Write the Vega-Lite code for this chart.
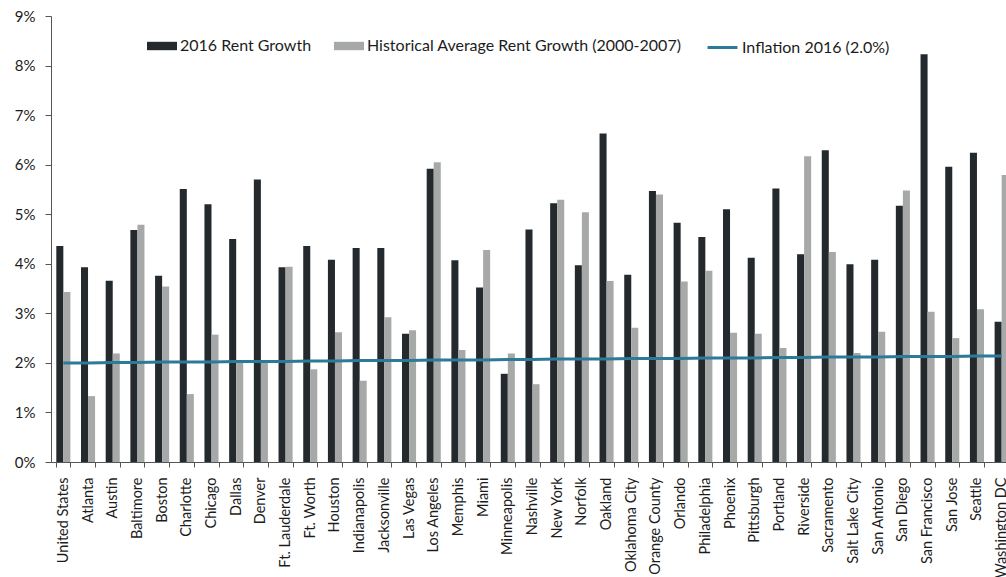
{
  "$schema": "https://vega.github.io/schema/vega-lite/v6.json",
  "autosize": {"type": "none"},
  "width": 955,
  "height": 446,
  "padding": {"left": 51, "top": 16, "right": 0, "bottom": 115},
  "background": "#ffffff",
  "config": {
    "view": {"stroke": null},
    "font": "Lato",
    "axis": {"labelFont": "Lato", "labelColor": "#1c1c1c", "domainColor": "#555555", "tickColor": "#555555", "grid": false}
  },
  "datasets": {
    "bars": [
      {"city": "United States", "series": "2016 Rent Growth", "value": 4.36},
      {"city": "United States", "series": "Historical Average Rent Growth (2000-2007)", "value": 3.43},
      {"city": "Atlanta", "series": "2016 Rent Growth", "value": 3.93},
      {"city": "Atlanta", "series": "Historical Average Rent Growth (2000-2007)", "value": 1.33},
      {"city": "Austin", "series": "2016 Rent Growth", "value": 3.66},
      {"city": "Austin", "series": "Historical Average Rent Growth (2000-2007)", "value": 2.19},
      {"city": "Baltimore", "series": "2016 Rent Growth", "value": 4.68},
      {"city": "Baltimore", "series": "Historical Average Rent Growth (2000-2007)", "value": 4.79},
      {"city": "Boston", "series": "2016 Rent Growth", "value": 3.76},
      {"city": "Boston", "series": "Historical Average Rent Growth (2000-2007)", "value": 3.54},
      {"city": "Charlotte", "series": "2016 Rent Growth", "value": 5.51},
      {"city": "Charlotte", "series": "Historical Average Rent Growth (2000-2007)", "value": 1.37},
      {"city": "Chicago", "series": "2016 Rent Growth", "value": 5.2},
      {"city": "Chicago", "series": "Historical Average Rent Growth (2000-2007)", "value": 2.57},
      {"city": "Dallas", "series": "2016 Rent Growth", "value": 4.5},
      {"city": "Dallas", "series": "Historical Average Rent Growth (2000-2007)", "value": 2.0},
      {"city": "Denver", "series": "2016 Rent Growth", "value": 5.7},
      {"city": "Denver", "series": "Historical Average Rent Growth (2000-2007)", "value": 2.05},
      {"city": "Ft. Lauderdale", "series": "2016 Rent Growth", "value": 3.93},
      {"city": "Ft. Lauderdale", "series": "Historical Average Rent Growth (2000-2007)", "value": 3.94},
      {"city": "Ft. Worth", "series": "2016 Rent Growth", "value": 4.36},
      {"city": "Ft. Worth", "series": "Historical Average Rent Growth (2000-2007)", "value": 1.87},
      {"city": "Houston", "series": "2016 Rent Growth", "value": 4.08},
      {"city": "Houston", "series": "Historical Average Rent Growth (2000-2007)", "value": 2.62},
      {"city": "Indianapolis", "series": "2016 Rent Growth", "value": 4.32},
      {"city": "Indianapolis", "series": "Historical Average Rent Growth (2000-2007)", "value": 1.64},
      {"city": "Jacksonville", "series": "2016 Rent Growth", "value": 4.32},
      {"city": "Jacksonville", "series": "Historical Average Rent Growth (2000-2007)", "value": 2.92},
      {"city": "Las Vegas", "series": "2016 Rent Growth", "value": 2.59},
      {"city": "Las Vegas", "series": "Historical Average Rent Growth (2000-2007)", "value": 2.66},
      {"city": "Los Angeles", "series": "2016 Rent Growth", "value": 5.92},
      {"city": "Los Angeles", "series": "Historical Average Rent Growth (2000-2007)", "value": 6.05},
      {"city": "Memphis", "series": "2016 Rent Growth", "value": 4.07},
      {"city": "Memphis", "series": "Historical Average Rent Growth (2000-2007)", "value": 2.26},
      {"city": "Miami", "series": "2016 Rent Growth", "value": 3.52},
      {"city": "Miami", "series": "Historical Average Rent Growth (2000-2007)", "value": 4.28},
      {"city": "Minneapolis", "series": "2016 Rent Growth", "value": 1.78},
      {"city": "Minneapolis", "series": "Historical Average Rent Growth (2000-2007)", "value": 2.19},
      {"city": "Nashville", "series": "2016 Rent Growth", "value": 4.69},
      {"city": "Nashville", "series": "Historical Average Rent Growth (2000-2007)", "value": 1.57},
      {"city": "New York", "series": "2016 Rent Growth", "value": 5.22},
      {"city": "New York", "series": "Historical Average Rent Growth (2000-2007)", "value": 5.29},
      {"city": "Norfolk", "series": "2016 Rent Growth", "value": 3.97},
      {"city": "Norfolk", "series": "Historical Average Rent Growth (2000-2007)", "value": 5.04},
      {"city": "Oakland", "series": "2016 Rent Growth", "value": 6.63},
      {"city": "Oakland", "series": "Historical Average Rent Growth (2000-2007)", "value": 3.65},
      {"city": "Oklahoma City", "series": "2016 Rent Growth", "value": 3.78},
      {"city": "Oklahoma City", "series": "Historical Average Rent Growth (2000-2007)", "value": 2.71},
      {"city": "Orange County", "series": "2016 Rent Growth", "value": 5.47},
      {"city": "Orange County", "series": "Historical Average Rent Growth (2000-2007)", "value": 5.4},
      {"city": "Orlando", "series": "2016 Rent Growth", "value": 4.83},
      {"city": "Orlando", "series": "Historical Average Rent Growth (2000-2007)", "value": 3.64},
      {"city": "Philadelphia", "series": "2016 Rent Growth", "value": 4.54},
      {"city": "Philadelphia", "series": "Historical Average Rent Growth (2000-2007)", "value": 3.86},
      {"city": "Phoenix", "series": "2016 Rent Growth", "value": 5.1},
      {"city": "Phoenix", "series": "Historical Average Rent Growth (2000-2007)", "value": 2.61},
      {"city": "Pittsburgh", "series": "2016 Rent Growth", "value": 4.12},
      {"city": "Pittsburgh", "series": "Historical Average Rent Growth (2000-2007)", "value": 2.59},
      {"city": "Portland", "series": "2016 Rent Growth", "value": 5.52},
      {"city": "Portland", "series": "Historical Average Rent Growth (2000-2007)", "value": 2.3},
      {"city": "Riverside", "series": "2016 Rent Growth", "value": 4.19},
      {"city": "Riverside", "series": "Historical Average Rent Growth (2000-2007)", "value": 6.17},
      {"city": "Sacramento", "series": "2016 Rent Growth", "value": 6.29},
      {"city": "Sacramento", "series": "Historical Average Rent Growth (2000-2007)", "value": 4.24},
      {"city": "Salt Lake City", "series": "2016 Rent Growth", "value": 3.99},
      {"city": "Salt Lake City", "series": "Historical Average Rent Growth (2000-2007)", "value": 2.2},
      {"city": "San Antonio", "series": "2016 Rent Growth", "value": 4.08},
      {"city": "San Antonio", "series": "Historical Average Rent Growth (2000-2007)", "value": 2.63},
      {"city": "San Diego", "series": "2016 Rent Growth", "value": 5.17},
      {"city": "San Diego", "series": "Historical Average Rent Growth (2000-2007)", "value": 5.48},
      {"city": "San Francisco", "series": "2016 Rent Growth", "value": 8.23},
      {"city": "San Francisco", "series": "Historical Average Rent Growth (2000-2007)", "value": 3.03},
      {"city": "San Jose", "series": "2016 Rent Growth", "value": 5.96},
      {"city": "San Jose", "series": "Historical Average Rent Growth (2000-2007)", "value": 2.5},
      {"city": "Seattle", "series": "2016 Rent Growth", "value": 6.24},
      {"city": "Seattle", "series": "Historical Average Rent Growth (2000-2007)", "value": 3.08},
      {"city": "Washington DC", "series": "2016 Rent Growth", "value": 2.83},
      {"city": "Washington DC", "series": "Historical Average Rent Growth (2000-2007)", "value": 5.79}
    ],
    "inflation": [
      {"city": "United States", "value": 2.0},
      {"city": "Atlanta", "value": 2.0},
      {"city": "Austin", "value": 2.01},
      {"city": "Baltimore", "value": 2.01},
      {"city": "Boston", "value": 2.02},
      {"city": "Charlotte", "value": 2.02},
      {"city": "Chicago", "value": 2.02},
      {"city": "Dallas", "value": 2.03},
      {"city": "Denver", "value": 2.03},
      {"city": "Ft. Lauderdale", "value": 2.03},
      {"city": "Ft. Worth", "value": 2.04},
      {"city": "Houston", "value": 2.04},
      {"city": "Indianapolis", "value": 2.05},
      {"city": "Jacksonville", "value": 2.05},
      {"city": "Las Vegas", "value": 2.05},
      {"city": "Los Angeles", "value": 2.06},
      {"city": "Memphis", "value": 2.06},
      {"city": "Miami", "value": 2.06},
      {"city": "Minneapolis", "value": 2.07},
      {"city": "Nashville", "value": 2.07},
      {"city": "New York", "value": 2.08},
      {"city": "Norfolk", "value": 2.08},
      {"city": "Oakland", "value": 2.08},
      {"city": "Oklahoma City", "value": 2.09},
      {"city": "Orange County", "value": 2.09},
      {"city": "Orlando", "value": 2.09},
      {"city": "Philadelphia", "value": 2.1},
      {"city": "Phoenix", "value": 2.1},
      {"city": "Pittsburgh", "value": 2.1},
      {"city": "Portland", "value": 2.11},
      {"city": "Riverside", "value": 2.11},
      {"city": "Sacramento", "value": 2.12},
      {"city": "Salt Lake City", "value": 2.12},
      {"city": "San Antonio", "value": 2.12},
      {"city": "San Diego", "value": 2.13},
      {"city": "San Francisco", "value": 2.13},
      {"city": "San Jose", "value": 2.13},
      {"city": "Seattle", "value": 2.14},
      {"city": "Washington DC", "value": 2.14}
    ]
  },
  "encoding": {
    "x": {
      "field": "city",
      "type": "nominal",
      "sort": null,
      "title": null,
      "scale": {"range": [0, 963], "paddingInner": 0.43, "paddingOuter": 0.215},
      "axis": {
        "labelAngle": -90,
        "labelFontSize": 14.5,
        "labelPadding": 10,
        "tickSize": 5,
        "tickBand": "extent",
        "domainWidth": 1
      }
    }
  },
  "layer": [
    {
      "data": {"name": "bars"},
      "mark": {"type": "bar"},
      "encoding": {
        "xOffset": {
          "field": "series",
          "type": "nominal",
          "sort": ["2016 Rent Growth", "Historical Average Rent Growth (2000-2007)"],
          "scale": {"paddingInner": 0, "paddingOuter": 0}
        },
        "y": {
          "field": "value",
          "type": "quantitative",
          "title": null,
          "scale": {"domain": [0, 9], "nice": false},
          "axis": {
            "values": [0, 1, 2, 3, 4, 5, 6, 7, 8, 9],
            "labelExpr": "datum.value + '%'",
            "labelFontSize": 15,
            "labelPadding": 10,
            "tickSize": 6,
            "domainWidth": 1
          }
        },
        "fill": {
          "field": "series",
          "type": "nominal",
          "scale": {
            "domain": ["2016 Rent Growth", "Historical Average Rent Growth (2000-2007)"],
            "range": ["#24292d", "#a7a9a9"]
          },
          "legend": {
            "title": null,
            "orient": "none",
            "direction": "horizontal",
            "legendX": 96,
            "legendY": 15,
            "padding": 0,
            "symbolType": "M-1,-0.28H1V0.28H-1Z",
            "symbolSize": 900,
            "symbolStrokeWidth": 0,
            "labelFont": "Lato",
            "labelFontSize": 16,
            "labelColor": "#1c1c1c",
            "labelOffset": 3,
            "columnPadding": 22,
            "labelLimit": 400
          }
        }
      }
    },
    {
      "data": {"name": "inflation"},
      "mark": {"type": "line", "strokeWidth": 3},
      "encoding": {
        "y": {"field": "value", "type": "quantitative"},
        "stroke": {
          "datum": "Inflation 2016 (2.0%)",
          "type": "nominal",
          "scale": {"range": ["#2c7a9a"]},
          "legend": {
            "title": null,
            "orient": "none",
            "legendX": 655,
            "legendY": 15,
            "padding": 0,
            "symbolType": "stroke",
            "symbolSize": 900,
            "symbolStrokeWidth": 3,
            "labelFont": "Lato",
            "labelFontSize": 16,
            "labelColor": "#1c1c1c",
            "labelOffset": 3,
            "labelLimit": 400
          }
        }
      }
    }
  ]
}
